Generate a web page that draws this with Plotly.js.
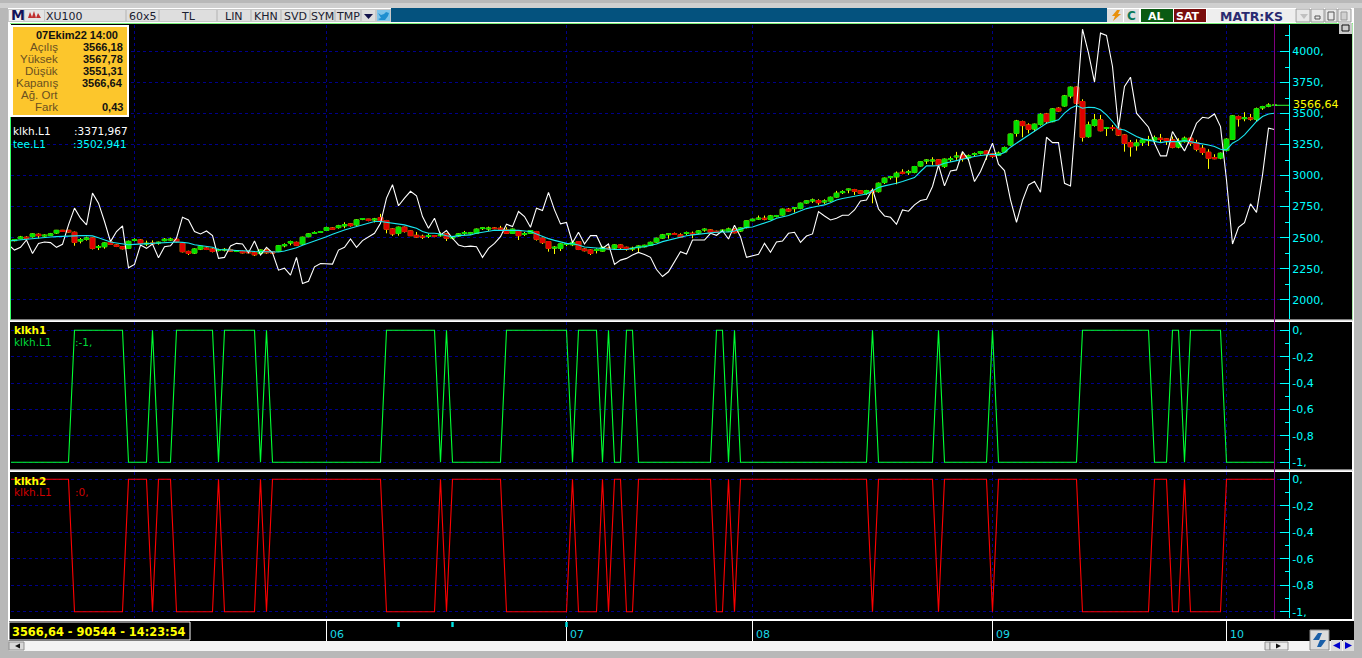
<!DOCTYPE html>
<html><head><meta charset="utf-8">
<script src="https://cdn.plot.ly/plotly-3.0.1.min.js"></script>
<style>html,body{margin:0;padding:0;background:#b8b8b8;overflow:hidden}#c{width:1362px;height:658px}</style>
</head><body><div id="c"></div>
<script>
const opens=[2470,2476,2492,2503,2508,2527,2514,2519,2538,2559,
2559,2543,2473,2487,2497,2422,2427,2465,2441,2427,
2414,2478,2481,2449,2457,2457,2476,2481,2487,2454,
2389,2376,2408,2416,2408,2397,2400,2403,2389,2389,
2389,2378,2373,2400,2387,2392,2435,2457,2462,2449,
2508,2535,2543,2559,2578,2581,2595,2611,2603,2649,
2649,2643,2662,2638,2570,2535,2584,2554,2519,2511,
2511,2516,2516,2530,2497,2514,2535,2532,2535,2573,
2570,2578,2576,2562,2535,2554,2527,2535,2549,2495,
2468,2416,2414,2446,2443,2468,2408,2400,2397,2392,
2416,2416,2441,2422,2408,2419,2427,2438,2465,2497,
2524,2532,2522,2535,2535,2538,2562,2562,2551,2554,
2554,2567,2554,2581,2637,2650,2656,2648,2672,2683,
2729,2734,2737,2780,2796,2799,2788,2796,2828,2863,
2885,2887,2877,2858,2877,2871,2944,2984,2990,3027,
3024,3027,3078,3118,3118,3127,3073,3129,3151,3164,
3143,3170,3181,3197,3175,3164,3191,3248,3341,3435,
3408,3376,3414,3497,3435,3543,3562,3642,3712,3597,
3314,3405,3449,3381,3387,3381,3327,3266,3241,3266,
3282,3288,3301,3296,3288,3231,3274,3301,3266,3220,
3188,3145,3142,3202,3293,3476,3459,3465,3454,3546,
3559,3566.18];
const highs=[2480,2489,2514,2511,2535,2535,2527,2538,2562,2562,
2562,2549,2497,2508,2500,2441,2462,2468,2446,2432,
2476,2495,2487,2476,2478,2468,2497,2500,2492,2460,
2395,2414,2432,2422,2416,2411,2416,2411,2397,2395,
2397,2384,2405,2411,2392,2441,2454,2476,2468,2508,
2535,2551,2554,2589,2584,2603,2624,2616,2649,2657,
2651,2659,2692,2643,2576,2589,2589,2557,2546,2524,
2532,2519,2543,2535,2514,2535,2554,2546,2573,2586,
2589,2584,2595,2584,2573,2559,2546,2562,2554,2500,
2473,2432,2454,2454,2476,2473,2414,2405,2414,2427,
2427,2446,2446,2427,2427,2438,2443,2468,2500,2530,
2535,2541,2535,2549,2549,2559,2575,2567,2556,2567,
2581,2575,2583,2637,2653,2678,2678,2683,2683,2734,
2739,2742,2782,2799,2815,2809,2809,2831,2877,2882,
2895,2893,2882,2885,2898,2944,2984,2998,3033,3051,
3046,3078,3116,3132,3148,3132,3138,3154,3191,3186,
3170,3186,3199,3202,3181,3194,3234,3339,3449,3443,
3422,3419,3502,3505,3543,3551,3650,3718,3718,3615,
3435,3497,3489,3392,3408,3408,3333,3287,3292,3301,
3320,3323,3336,3301,3315,3301,3315,3309,3288,3247,
3212,3172,3186,3301,3487,3484,3511,3497,3548,3562,
3583,3567.78];
const lows=[2462,2470,2487,2495,2500,2495,2508,2514,2530,2549,
2541,2435,2454,2476,2405,2400,2411,2441,2424,2405,
2408,2470,2449,2432,2441,2443,2470,2473,2462,2381,
2360,2368,2400,2400,2381,2389,2389,2387,2384,2373,
2376,2352,2368,2370,2373,2387,2422,2438,2432,2443,
2503,2530,2541,2554,2562,2573,2576,2589,2595,2641,
2632,2622,2622,2535,2514,2516,2541,2514,2500,2489,
2497,2503,2508,2473,2487,2508,2522,2522,2530,2562,
2554,2568,2562,2530,2530,2481,2514,2530,2476,2449,
2387,2368,2392,2432,2432,2400,2389,2360,2373,2387,
2405,2405,2408,2395,2392,2378,2422,2432,2460,2492,
2492,2522,2497,2522,2495,2530,2548,2535,2540,2548,
2548,2535,2546,2575,2632,2643,2640,2640,2664,2678,
2710,2702,2729,2774,2780,2764,2772,2788,2823,2852,
2858,2844,2852,2844,2777,2863,2933,2968,2930,3011,
3006,3019,3073,3094,3086,3068,3062,3111,3127,3113,
3121,3154,3170,3127,3143,3159,3186,3242,3314,3309,
3341,3354,3403,3416,3430,3516,3556,3623,3570,3274,
3306,3395,3357,3319,3362,3319,3193,3153,3201,3239,
3239,3255,3266,3247,3220,3220,3266,3239,3196,3167,
3054,3132,3132,3194,3288,3395,3438,3443,3436,3530,
3551,3551.31];
const closes=[2473,2484,2505,2497,2530,2516,2519,2530,2559,2551,
2546,2462,2484,2497,2414,2427,2457,2446,2430,2411,
2470,2484,2454,2454,2451,2462,2487,2487,2468,2387,
2373,2408,2430,2405,2389,2403,2405,2392,2395,2378,
2378,2362,2400,2378,2376,2435,2443,2468,2438,2503,
2530,2541,2549,2581,2568,2595,2603,2597,2643,2654,
2638,2649,2630,2568,2530,2584,2549,2516,2505,2505,
2516,2511,2522,2495,2508,2530,2541,2538,2568,2578,
2576,2573,2568,2535,2568,2516,2532,2557,2487,2460,
2414,2422,2449,2451,2460,2405,2395,2373,2403,2422,
2411,2441,2419,2405,2414,2432,2438,2462,2495,2522,
2530,2527,2503,2541,2530,2554,2567,2540,2546,2559,
2570,2540,2578,2635,2648,2656,2650,2675,2678,2729,
2715,2739,2777,2796,2802,2782,2794,2825,2858,2869,
2890,2874,2858,2879,2869,2938,2979,2990,3019,3019,
3030,3073,3111,3124,3124,3081,3132,3135,3156,3140,
3159,3175,3194,3172,3154,3181,3226,3334,3440,3403,
3373,3414,3494,3435,3537,3521,3642,3712,3583,3309,
3408,3449,3362,3387,3381,3327,3260,3233,3263,3287,
3290,3306,3293,3282,3228,3277,3301,3261,3212,3186,
3140,3137,3180,3293,3481,3457,3465,3457,3538,3554,
3567,3566.64];
const klkhL1=[2443,2400,2422,2481,2373,2454,2465,2460,2422,2446,
2603,2738,2657,2603,2859,2778,2630,2468,2549,2595,
2257,2284,2441,2414,2449,2338,2427,2435,2495,2665,
2643,2549,2530,2554,2516,2333,2341,2433,2454,2449,
2378,2473,2360,2422,2378,2238,2254,2198,2341,2130,
2149,2265,2292,2287,2287,2400,2422,2490,2422,2476,
2508,2535,2616,2819,2927,2757,2819,2873,2838,2670,
2576,2657,2522,2557,2495,2441,2427,2432,2427,2341,
2414,2454,2508,2608,2589,2711,2670,2584,2738,2719,
2865,2724,2611,2622,2459,2543,2449,2516,2516,2414,
2449,2284,2319,2333,2360,2381,2365,2341,2243,2187,
2225,2306,2387,2368,2481,2481,2481,2535,2519,2556,
2489,2600,2508,2341,2352,2366,2454,2382,2465,2473,
2535,2543,2462,2513,2530,2710,2675,2643,2656,2680,
2680,2723,2796,2804,2890,2731,2675,2664,2608,2723,
2713,2764,2799,2809,2912,3086,2917,3038,3046,3194,
3127,2952,3033,3140,3261,3092,3041,2804,2624,2799,
2925,2952,2866,3309,3266,3266,2938,2917,3556,4180,
3987,3753,4148,4129,3879,3382,3718,3793,3503,3449,
3390,3261,3159,3159,3355,3274,3199,3301,3422,3470,
3462,3497,3395,2965,2449,2583,2621,2772,2704,3005,
3382,3372];
const teeL1=[2473,2478,2484,2489,2495,2500,2503,2505,2508,2511,
2513,2516,2516,2516,2514,2500,2481,2465,2457,2449,
2443,2446,2449,2449,2451,2457,2460,2462,2465,2462,
2457,2443,2435,2432,2422,2405,2400,2400,2397,2397,
2392,2389,2387,2384,2381,2384,2392,2405,2419,2438,
2454,2473,2492,2508,2527,2546,2562,2576,2589,2603,
2616,2630,2630,2624,2616,2608,2603,2589,2576,2549,
2535,2535,2530,2516,2508,2516,2516,2522,2535,2543,
2549,2559,2559,2559,2562,2559,2554,2549,2530,2508,
2492,2478,2468,2454,2451,2441,2424,2419,2414,2414,
2408,2405,2405,2405,2414,2424,2427,2435,2449,2468,
2481,2495,2508,2516,2522,2527,2538,2540,2543,2546,
2546,2554,2567,2583,2586,2602,2616,2634,2656,2667,
2678,2696,2718,2734,2745,2756,2764,2782,2804,2815,
2823,2834,2842,2852,2877,2904,2917,2925,2938,2952,
2965,2984,3033,3078,3078,3081,3100,3113,3121,3132,
3146,3154,3162,3167,3172,3167,3186,3229,3261,3296,
3328,3363,3395,3422,3436,3449,3503,3543,3565,3543,
3551,3548,3530,3489,3436,3376,3368,3341,3315,3296,
3288,3274,3266,3274,3274,3274,3282,3274,3269,3255,
3247,3234,3212,3207,3261,3288,3328,3382,3436,3476,
3497,3502.94];
const klkh1=[-1,-1,-1,-1,-1,-1,-1,-1,-1,-1,
-1,0,0,0,0,0,0,0,0,0,
-1,-1,-1,-1,0,-1,-1,-1,0,0,
0,0,0,0,0,-1,0,0,0,0,
0,0,-1,0,-1,-1,-1,-1,-1,-1,
-1,-1,-1,-1,-1,-1,-1,-1,-1,-1,
-1,-1,-1,0,0,0,0,0,0,0,
0,0,-1,0,-1,-1,-1,-1,-1,-1,
-1,-1,-1,0,0,0,0,0,0,0,
0,0,0,0,-1,0,0,0,0,-1,
0,-1,-1,0,0,-1,-1,-1,-1,-1,
-1,-1,-1,-1,-1,-1,-1,-1,0,0,
-1,0,-1,-1,-1,-1,-1,-1,-1,-1,
-1,-1,-1,-1,-1,-1,-1,-1,-1,-1,
-1,-1,-1,-1,0,-1,-1,-1,-1,-1,
-1,-1,-1,-1,-1,0,-1,-1,-1,-1,
-1,-1,-1,-1,0,-1,-1,-1,-1,-1,
-1,-1,-1,-1,-1,-1,-1,-1,-1,0,
0,0,0,0,0,0,0,0,0,0,
0,-1,-1,-1,0,0,-1,0,0,0,
0,0,0,-1,-1,-1,-1,-1,-1,-1,
-1,-1];
const klkh2=[0,0,0,0,0,0,0,0,0,0,
0,-1,-1,-1,-1,-1,-1,-1,-1,-1,
0,0,0,0,-1,0,0,0,-1,-1,
-1,-1,-1,-1,-1,0,-1,-1,-1,-1,
-1,-1,0,-1,0,0,0,0,0,0,
0,0,0,0,0,0,0,0,0,0,
0,0,0,-1,-1,-1,-1,-1,-1,-1,
-1,-1,0,-1,0,0,0,0,0,0,
0,0,0,-1,-1,-1,-1,-1,-1,-1,
-1,-1,-1,-1,0,-1,-1,-1,-1,0,
-1,0,0,-1,-1,0,0,0,0,0,
0,0,0,0,0,0,0,0,-1,-1,
0,-1,0,0,0,0,0,0,0,0,
0,0,0,0,0,0,0,0,0,0,
0,0,0,0,-1,0,0,0,0,0,
0,0,0,0,0,-1,0,0,0,0,
0,0,0,0,-1,0,0,0,0,0,
0,0,0,0,0,0,0,0,0,-1,
-1,-1,-1,-1,-1,-1,-1,-1,-1,-1,
-1,0,0,0,-1,-1,0,-1,-1,-1,
-1,-1,-1,0,0,0,0,0,0,0,
0,0];
const priceTicks=[2000,2250,2500,2750,3000,3250,3500,3750,4000];
const priceLabels=['2000,','2250,','2500,','2750,','3000,','3250,','3500,','3750,','4000,'];
const priceMinor=[2125,2375,2625,2875,3125,3375,3625,3875,4125];
const signalTicks=[0,-0.2,-0.4,-0.6,-0.8,-1];
const signalLabels=['0,','-0,2','-0,4','-0,6','-0,8','-1,'];
const signalMinor=[-0.1,-0.3,-0.5,-0.7,-0.9];
const gridBars=[21,53,93,124,164,203];
const monthBars=[53,93,124,164,203];
const monthLabels=['06','07','08','09','10'];
const eventBars=[65,74,93];
const infoRows=[['Açılış','3566,18'],['Yüksek','3567,78'],['Düşük','3551,31'],['Kapanış','3566,64'],['Ağ. Ort',''],['Fark','0,43']];

const bars=opens.map((_,i)=>i);
const W=1362,H=658;
const fx=p=>p/W, fy=p=>1-p/H;
const rect=(x0,y0,x1,y1,fill,line,layer)=>({type:'rect',xref:'paper',yref:'paper',x0:fx(x0),x1:fx(x1),y0:fy(y0),y1:fy(y1),fillcolor:fill,line:{color:line||fill,width:line?1:0},layer:layer||'above'});
const hline=(x0,x1,y,c)=>({type:'line',xref:'paper',yref:'paper',x0:fx(x0),x1:fx(x1),y0:fy(y),y1:fy(y),line:{color:c,width:1}});
const vline=(x,y0,y1,c)=>({type:'line',xref:'paper',yref:'paper',x0:fx(x),x1:fx(x),y0:fy(y0),y1:fy(y1),line:{color:c,width:1}});
const poly=(pts,fill)=>({type:'path',xref:'paper',yref:'paper',path:'M'+pts.map(p=>fx(p[0])+','+fy(p[1])).join(' L')+' Z',fillcolor:fill,line:{width:0},layer:'above'});
const txt=(t,x,y,color,size,opts)=>Object.assign({text:t,xref:'paper',yref:'paper',x:fx(x),y:fy(y),xanchor:'left',yanchor:'middle',showarrow:false,borderpad:0,font:{family:'DejaVu Sans',size:size||11,color:color}},opts||{});

const grid='#00008b', cyan='#00ffff';
const xBase={domain:[fx(11),fx(1289)],range:[(11-8.5)/6,(1289-8.5)/6],showticklabels:false,ticks:'',tickmode:'array',tickvals:gridBars,showgrid:true,gridcolor:grid,griddash:'3px,3px',gridwidth:1,zeroline:false,showline:false,rangeslider:{visible:false}};
const yBase=(top,bot,rng,tv,tl,mv)=>({domain:[fy(bot),fy(top)],range:rng,side:'right',tickmode:'array',tickvals:tv,ticktext:tl,ticks:'inside',ticklen:9,tickcolor:cyan,tickwidth:1,minor:{tickmode:'array',tickvals:mv,ticks:'inside',ticklen:4,tickcolor:cyan,tickwidth:1,showgrid:false},showline:true,linecolor:cyan,linewidth:1,showgrid:true,gridcolor:grid,griddash:'3px,3px',gridwidth:1,zeroline:false,tickfont:{family:'DejaVu Sans',size:11,color:cyan},automargin:false,layer:'below traces'});

const clear='rgba(0,0,0,0)';
const bodyHi=bars.map(i=>Math.max(opens[i],closes[i]));
const bodyLo=bars.map(i=>Math.min(opens[i],closes[i]));
const traces=[
 {type:'candlestick',name:'wick',x:bars,open:opens,high:highs,low:lows,close:closes,xaxis:'x',yaxis:'y',whiskerwidth:0,increasing:{line:{color:'#ffff00',width:1},fillcolor:clear},decreasing:{line:{color:'#ffff00',width:1},fillcolor:clear},hoverinfo:'skip',showlegend:false},
 {type:'candlestick',name:'XU100',x:bars,open:opens,high:bodyHi,low:bodyLo,close:closes,xaxis:'x',yaxis:'y',whiskerwidth:0,increasing:{line:{color:'#00e000',width:1},fillcolor:'#00e000'},decreasing:{line:{color:'#e00000',width:1},fillcolor:'#e00000'},hoverinfo:'skip',showlegend:false},
 {type:'scatter',mode:'lines',name:'klkh.L1',x:bars,y:klkhL1,xaxis:'x',yaxis:'y',line:{color:'#ffffff',width:1.1},hoverinfo:'skip',showlegend:false},
 {type:'scatter',mode:'lines',name:'tee.L1',x:bars,y:teeL1,xaxis:'x',yaxis:'y',line:{color:'#19e6f0',width:1.1},hoverinfo:'skip',showlegend:false},
 {type:'scatter',mode:'lines',name:'klkh1',x:bars,y:klkh1,xaxis:'x2',yaxis:'y2',line:{color:'#00ff33',width:1.1},hoverinfo:'skip',showlegend:false},
 {type:'scatter',mode:'lines',name:'klkh2',x:bars,y:klkh2,xaxis:'x3',yaxis:'y3',line:{color:'#ff0000',width:1.1},hoverinfo:'skip',showlegend:false}
];

const btn='#dedede';
const shapes=[
 rect(0,0,W,H,'#b8b8b8',null,'below'),
 rect(0,3,W,8,'#cfcfcf',null,'below'),
 rect(8,8,1354,640,'#ffffff',null,'below'),
 rect(11,24,1352,319.5,'#000000',null,'below'),
 rect(10,322,1352,469.5,'#000000',null,'below'),
 rect(10,472,1352,619,'#000000',null,'below'),
 rect(9,621,1354,641,'#000000',null,'below'),
 rect(9,641,1354,651,'#f4f4f4',null,'below'),
 hline(10,1353,23.5,'#7cf07c'),
 vline(10.5,117,320,'#33ff66'),
 vline(1352.5,24,320,'#a8e8a8'),
 rect(8,9,391,22,'#c8c8c8'),
 rect(9,10,23,21,'#f2f2f2'),
 rect(25,10,44,21,'#e4e4e4'),
 rect(45,10,125,21,btn),rect(127,10,158,21,btn),rect(160,10,216,21,btn),rect(218,10,250,21,btn),
 rect(252,10,280,21,btn),rect(282,10,309,21,btn),rect(311,10,334,21,btn),rect(336,10,360,21,btn),
 rect(362,10,375,21,btn),
 poly([[364,14],[373,14],[368.5,19]],'#12124a'),
 rect(377,10,390,21,'#7fc4ea'),
 poly([[378,13],[381,15],[384,14],[386,12],[389,13],[388,16],[385,20],[380,20],[378,19],[381,18]],'#1f8fd0'),
 poly([[28,18],[30,12],[32,17],[34,11],[36,18],[38,13],[41,18]],'#c03030'),
 rect(391,8,1107,22,'#04527e'),
 rect(1107,9,1123,22,btn),rect(1124,9,1139,22,btn),
 poly([[1117,10],[1120,10],[1118,14],[1121,14],[1113,21],[1115,16],[1112,16]],'#e8900c'),
 rect(1141,9,1173,22,'#0a5a12'),rect(1174,9,1206,22,'#7a0d0d'),
 rect(1207,9,1295,22,'#eeeeee'),
 rect(1296,9,1310,22,'#e8e8e8','#9a9a9a'),rect(1311,9,1324,22,'#e8e8e8','#9a9a9a'),rect(1325,9,1337,22,'#e8e8e8','#9a9a9a'),rect(1338,9,1351,22,'#e8e8e8','#9a9a9a'),
 poly([[1300,14],[1308,14],[1304,19]],'#c0c0c0'),
 rect(1315,16,1320,19,'#e8e8e8','#555555'),
 rect(1328,12,1334,20,'#e8e8e8','#555555'),
 rect(1341,12,1347,20,'#d0d0d0','#999999'),
 rect(1339,23,1352,34,'#cccccc'),
 rect(1342,25,1349,31,'#cccccc','#111111'),
 rect(10,25,129,117,'#ffffff'),
 rect(13,27,127,115,'#fcc62c'),
 hline(10,1353,320.5,'#e0e0e0'),
 hline(10,1353,470.5,'#e0e0e0'),
 {type:'line',xref:'x',yref:'y',x0:bars[bars.length-1],x1:(1289-8.5)/6,y0:closes[closes.length-1],y1:closes[closes.length-1],line:{color:'#33ff33',width:1}},
 {type:'line',xref:'x',yref:'paper',x0:bars[bars.length-1],x1:bars[bars.length-1],y0:fy(619),y1:fy(24),line:{color:'#800080',width:1}},
 rect(9,622,190,640,'#000000','#ffffff'),
 rect(9,642,24,650,'#d8d8d8','#909090'),
 rect(1265,642,1270,650,'#e0e0e0','#909090'),rect(1270,642,1288,650,'#ececec','#909090'),
 rect(1310,630,1329,650,'#dcdcdc','#8a8a8a'),rect(1331,640,1342,651,'#dcdcdc'),rect(1343,640,1354,651,'#dcdcdc'),
 poly([[1340,642],[1340,649],[1333,645.5]],'#0000cc'),
 poly([[1345,642],[1345,649],[1352,645.5]],'#0000cc'),
 poly([[1313,640],[1318,633],[1322,633],[1319,640]],'#1a5fa8'),
 poly([[1326,640],[1321,647],[1317,647],[1320,640]],'#1a5fa8'),
 poly([[15,646],[20,643.5],[20,648.5]],'#111111'),
 poly([[1276,643.5],[1281,646],[1276,648.5]],'#111111')
];
monthBars.forEach(b=>shapes.push({type:'line',xref:'x3',yref:'paper',x0:b,x1:b,y0:fy(621),y1:fy(641),line:{color:'#ffffff',width:1}}));
eventBars.forEach(b=>shapes.push({type:'rect',xref:'x3',yref:'paper',x0:b-0.2,x1:b+0.2,y0:fy(622),y1:fy(627),fillcolor:'#00e5e5',line:{width:0}}));

const ann=[
 txt('<b>M</b>',10,15.5,'#14145a',14),
 txt('XU100',45,16,'#1a2030',11),
 txt('60x5',128,16,'#1a2030',11),
 txt('TL',188,16,'#1a2030',11,{xanchor:'center'}),
 txt('LIN',234,16,'#1a2030',11,{xanchor:'center'}),
 txt('KHN',266,16,'#1a2030',11,{xanchor:'center'}),
 txt('SVD',295.5,16,'#1a2030',11,{xanchor:'center'}),
 txt('SYM',322.5,16,'#1a2030',11,{xanchor:'center'}),
 txt('TMP',348,16,'#1a2030',11,{xanchor:'center'}),
 txt('<b>C</b>',1131.5,16,'#0a7a5a',12,{xanchor:'center'}),
 txt('<b>AL</b>',1156,16,'#ffffff',11,{xanchor:'center'}),
 txt('<b>SAT</b>',1188,16,'#ffffff',11,{xanchor:'center'}),
 txt('<b>MATR:KS</b>',1251,16,'#2a2a70',12.5,{xanchor:'center'}),
 txt('<b>07Ekim22 14:00</b>',76.5,35,'#111111',10.5,{xanchor:'center',font:{family:'Liberation Sans',size:11,color:'#111111'}}),
 txt('klkh.L1',12,131.5,'#ffffff',10.5),
 txt(':3371,967',73,131.5,'#ffffff',10.5),
 txt('tee.L1',12,143.5,cyan,10.5),
 txt(':3502,941',72,143.5,cyan,10.5),
 txt('3566,64',1292,105,'#ffff00',11),
 txt('<b>klkh1</b>',13,330,'#ffff00',10.5),
 txt('klkh.L1',13,342,'#00d83a',10.5),
 txt(':-1,',74,342,'#00d83a',10.5),
 txt('<b>klkh2</b>',13,480.5,'#ffff00',10.5),
 txt('klkh.L1',13,492,'#d00000',10.5),
 txt(':0,',74,492,'#d00000',10.5),
 txt('<b>3566,64 - 90544 - 14:23:54</b>',11,631.5,'#ffff00',11.4)
];
infoRows.forEach((r,i)=>{
 const y=47+12*i;
 ann.push(txt(r[0],59,y,'#6a4a10',11,{xanchor:'right',font:{family:'Liberation Sans',size:11.5,color:'#6a5020'}}));
 if(r[1])ann.push(txt('<b>'+r[1]+'</b>',123.5,y,'#111111',11,{xanchor:'right',font:{family:'Liberation Sans',size:11,color:'#111111'}}));
});
monthBars.forEach((b,i)=>ann.push({text:monthLabels[i],xref:'x3',yref:'paper',x:b,y:fy(634),xanchor:'left',yanchor:'middle',xshift:2,showarrow:false,borderpad:0,font:{family:'DejaVu Sans',size:11,color:'#19d8e6'}}));

const layout={width:W,height:H,margin:{l:0,r:0,t:0,b:0,pad:0},paper_bgcolor:'#b8b8b8',plot_bgcolor:'rgba(0,0,0,0)',showlegend:false,dragmode:false,hovermode:false,boxgap:0.25,boxgroupgap:0,boxmode:'overlay',
 xaxis:Object.assign({},xBase,{anchor:'y'}),
 xaxis2:Object.assign({},xBase,{anchor:'y2'}),
 xaxis3:Object.assign({},xBase,{anchor:'y3'}),
 yaxis:Object.assign(yBase(24.5,319,[1844.5,4217.6],priceTicks,priceLabels,priceMinor),{anchor:'x'}),
 yaxis2:Object.assign(yBase(322,469,[-1.0508,0.0629],signalTicks,signalLabels,signalMinor),{anchor:'x2'}),
 yaxis3:Object.assign(yBase(472,618,[-1.0476,0.0551],signalTicks,signalLabels,signalMinor),{anchor:'x3'}),
 shapes:shapes,annotations:ann};
Plotly.newPlot('c',traces,layout,{displayModeBar:false,staticPlot:true});
</script></body></html>
